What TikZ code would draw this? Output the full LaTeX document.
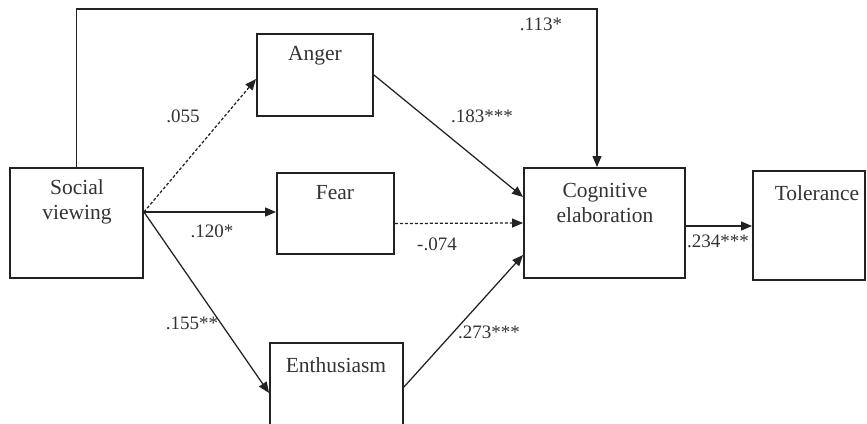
\documentclass[tikz,border=0pt]{standalone}
\usepackage{fontspec}
\setmainfont{Liberation Serif}
\usetikzlibrary{arrows.meta}
\definecolor{ink}{HTML}{222222}
\definecolor{txtgray}{HTML}{333333}
\tikzset{
  box/.style={draw=ink, line width=1.9pt, inner sep=0pt, fill=white},
  boxtext/.style={text=txtgray, align=center, inner sep=0pt, font=\fontsize{21.5}{24.5}\selectfont},
  coef/.style={text=txtgray, inner sep=0pt, font=\fontsize{19}{22}\selectfont},
  path/.style={draw=ink, line width=1.25pt, -{Triangle[length=11pt,width=9pt]}},
  ns/.style={dash pattern=on 3pt off 2pt}
}
\begin{document}
\begin{tikzpicture}[x=1pt,y=-1pt]
\useasboundingbox (0,0) rectangle (867,423);
\clip (0,0) rectangle (867,423);
\fill[white] (0,0) rectangle (867,423);

% constructs
\node[box, minimum width=133, minimum height=110] (sv) at (76.5,223) {};
\node[box, minimum width=116, minimum height=82] (anger) at (315,75) {};
\node[box, minimum width=117, minimum height=81] (fear) at (335.5,213.5) {};
\node[box, minimum width=133, minimum height=112] (enth) at (336.5,399) {};
\node[box, minimum width=161, minimum height=110] (cog) at (604.5,223) {};
\node[box, minimum width=112, minimum height=109] (tol) at (809,225.5) {};

\node[boxtext] (svt) at (77,202) {Social\\viewing};
\node[boxtext] (angert) at (315,56) {Anger};
\node[boxtext] (feart) at (335,193) {Fear};
\node[boxtext] (entht) at (336,365) {Enthusiasm};
\node[boxtext] (cogt) at (605,203) {Cognitive\\elaboration};
\node[boxtext] (tolt) at (817,193) {Tolerance};

% paths
\coordinate (topbar) at (0,9);
\draw[path] (sv.north) -- (sv.north |- topbar) -| ([xshift=-7.5pt]cog.north);
\draw[path, ns] ([yshift=11pt]sv.east) -- ([yshift=-4pt]anger.west);
\draw[path] ([yshift=11pt]sv.east) -- ([yshift=1.5pt]fear.west);
\draw[path] ([yshift=11pt]sv.east) -- ([yshift=6pt]enth.west);
\draw[path] (anger.east) -- ([yshift=26pt]cog.west);
\draw[path, ns] ([yshift=-10pt]fear.east) -- ([yshift=0pt]cog.west);
\draw[path] ([yshift=12pt]enth.east) -- ([yshift=-32pt]cog.west);
\draw[path] ([yshift=-3pt]cog.east) -- ([yshift=-3pt]cog.east -| tol.west);

% coefficients
\node[coef] (c113) at (541,24) {.113*};
\node[coef] (c055) at (183,116) {.055};
\node[coef] (c120) at (212,231) {.120*};
\node[coef] (c155) at (192,323) {.155**};
\node[coef] (c183) at (482,116) {.183***};
\node[coef] (c074) at (437,244) {-.074};
\node[coef] (c273) at (489,332) {.273***};
\node[coef] (c234) at (718,241) {.234***};
\end{tikzpicture}
\end{document}
